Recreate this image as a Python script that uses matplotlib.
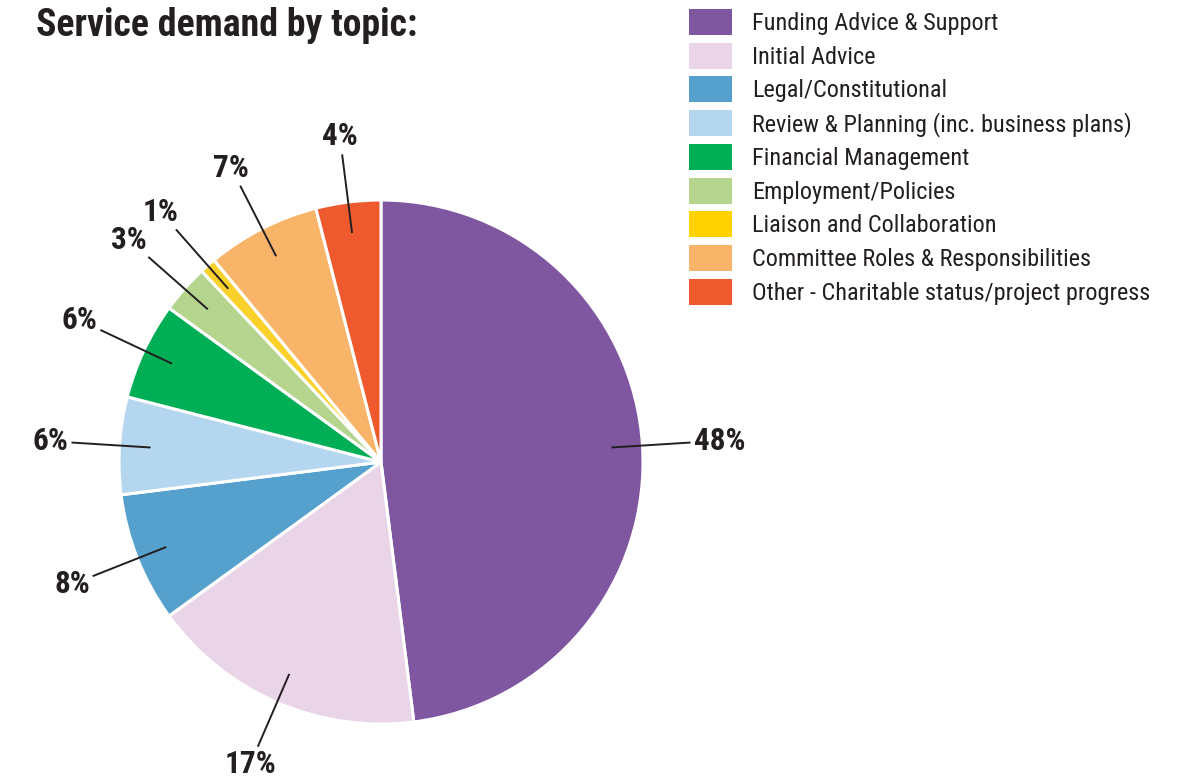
import numpy as np
import matplotlib.pyplot as plt
from matplotlib.patches import Rectangle

# Data
topics = ['Funding Advice & Support', 'Initial Advice', 'Legal/Constitutional',
          'Review & Planning (inc. business plans)', 'Financial Management',
          'Employment/Policies', 'Liaison and Collaboration',
          'Committee Roles & Responsibilities',
          'Other - Charitable status/project progress']
shares = [48, 17, 8, 6, 6, 3, 1, 7, 4]
colors = ['#7f56a0', '#e9d4e8', '#55a0cc', '#b4d6ef', '#00af55',
          '#b5d58e', '#f9d12a', '#f8b469', '#ee5a2d']
legend_colors = ['#7f56a0', '#e9d4e8', '#55a0cc', '#b4d6ef', '#00af55',
                 '#b5d58e', '#ffd200', '#f8b469', '#ee5a2d']

plt.rcParams['font.family'] = ['Roboto Condensed', 'Barlow Semi Condensed', 'DejaVu Sans']
ink = '#231f20'

fig = plt.figure(figsize=(11.82, 7.78), dpi=100)
ax = fig.add_axes([0, 0, 1, 1])

cx, cy, R = 381, 316, 262
wedges, _ = ax.pie(shares, colors=colors, startangle=90, counterclock=False,
                   center=(cx, cy), radius=R,
                   wedgeprops=dict(edgecolor='white', linewidth=2.2))
ax.set_xlim(0, 1182)
ax.set_ylim(0, 778)
ax.set_aspect('equal')
ax.axis('off')

renderer = fig.canvas.get_renderer()

# percentage labels with leader lines
for w, s in zip(wedges, shares):
    ang = np.deg2rad((w.theta1 + w.theta2) / 2)
    c, sn = np.cos(ang), np.sin(ang)
    x_end, y_end = cx + 1.18 * R * c, cy + 1.18 * R * sn
    ax.plot([cx + 0.885 * R * c, x_end], [cy + 0.885 * R * sn, y_end],
            color=ink, lw=1.4)
    t = ax.text(x_end, y_end, f'{s}%', ha='center', va='center',
                fontsize=22.5, fontweight='bold', color=ink)
    bb = t.get_window_extent(renderer)
    hw, hh = bb.width / 2, bb.height / 2
    d = min(hw / max(abs(c), 1e-6), hh / max(abs(sn), 1e-6)) + 4
    t.set_position((x_end + d * c, y_end + d * sn))

ax.text(36, 778 - 36, 'Service demand by topic:', fontsize=27.2,
        fontweight='bold', color=ink, va='baseline', ha='left')

# legend
for i, (t, col) in enumerate(zip(topics, legend_colors)):
    y = 778 - 22 - i * 33.7
    ax.add_patch(Rectangle((689, y - 13), 43, 26, color=col, lw=0))
    ax.text(752, y - 8, t, fontsize=17.5, color=ink, va='baseline', ha='left')

plt.savefig('out.png', dpi=100)
